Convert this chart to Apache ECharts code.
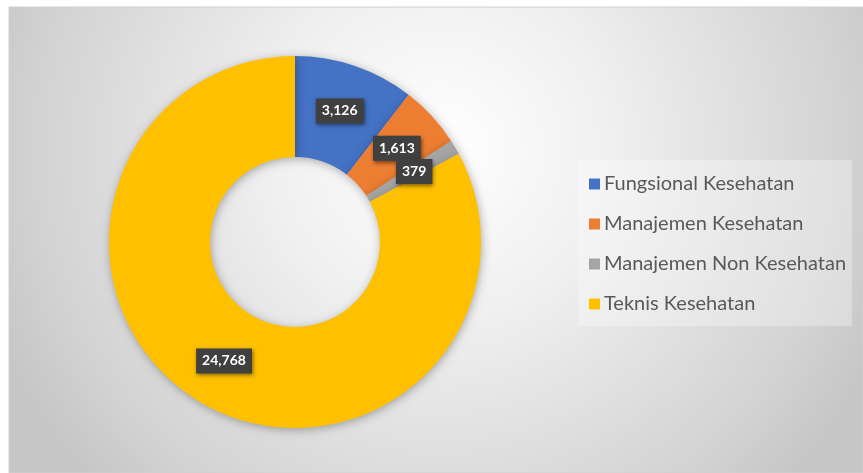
<!DOCTYPE html>
<html><head><meta charset="utf-8">
<script src="https://cdn.jsdelivr.net/npm/echarts@6/dist/echarts.min.js"></script>
<style>html,body{margin:0;padding:0;background:#fff}#c{width:863px;height:473px}</style>
</head><body><div id="c"></div>
<script>
const categories = ['Fungsional Kesehatan','Manajemen Kesehatan','Manajemen Non Kesehatan','Teknis Kesehatan'];
const values = [3126, 1613, 379, 24768];
const colors = ['#4472C4','#ED7D31','#A5A5A5','#FFC000'];

const chart = echarts.init(document.getElementById('c'));
const fmt = v => v.toLocaleString('en-US');
chart.setOption({
  animation: false,
  graphic: [{
    type: 'rect', z: -10, silent: true,
    shape: {x: 9, y: 7, width: 854, height: 466},
    style: {
      fill: new echarts.graphic.RadialGradient(440, 150, 480, [
        {offset: 0, color: '#ffffff'},
        {offset: 0.35, color: '#f0f0f0'},
        {offset: 0.85, color: '#d2d2d2'},
        {offset: 1, color: '#c6c6c6'}
      ], true),
      stroke: '#d0d0d0', lineWidth: 1
    }
  }],
  legend: {
    orient: 'vertical',
    left: 578, top: 160,
    padding: [12, 6, 10, 11],
    backgroundColor: 'rgba(255,255,255,0.3)',
    itemWidth: 11, itemHeight: 11, itemGap: 16,
    icon: 'rect',
    textStyle: {fontFamily: 'Lato', fontSize: 20, color: '#595959', lineHeight: 24, padding: [0,0,0,-1]},
    data: categories
  },
  series: [{
    type: 'pie',
    center: [295, 242],
    radius: [85, 186],
    startAngle: 90,
    clockwise: true,
    avoidLabelOverlap: false,
    labelLayout: {hideOverlap: false},
    itemStyle: {shadowBlur: 10, shadowColor: 'rgba(0,0,0,0.3)', shadowOffsetX: 1, shadowOffsetY: 2},
    label: {
      show: true, position: 'inside',
      formatter: p => fmt(p.value),
      color: '#fff', fontFamily: 'Lato', fontWeight: 'bold', fontSize: 14,
      backgroundColor: '#404040', padding: [6, 6, 5, 6],
      shadowBlur: 4, shadowColor: 'rgba(0,0,0,0.5)', shadowOffsetX: 1, shadowOffsetY: 2
    },
    labelLine: {show: false},
    data: categories.map((n, i) => ({name: n, value: values[i], itemStyle: {color: colors[i]}}))
  }]
});
</script></body></html>
